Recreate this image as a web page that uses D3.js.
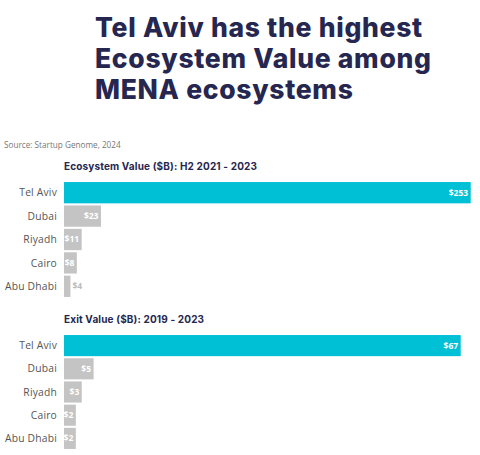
<!DOCTYPE html>
<html>
<head>
<meta charset="utf-8">
<script src="https://cdn.jsdelivr.net/npm/d3@7"></script>
<style>
  body { margin: 0; background: #fff; }
  svg { display: block; }
  .title { font-family: Inter, sans-serif; font-weight: 800; fill: #262750; letter-spacing: 0.7px; }
  .source { font-family: "Open Sans", sans-serif; font-size: 8.2px; fill: #777; }
  .chart-title { font-family: Inter, sans-serif; font-weight: 700; font-size: 10px; fill: #262750; letter-spacing: 0.15px; }
  .cat { font-family: "Open Sans", sans-serif; font-size: 10.3px; fill: #555; letter-spacing: 0.2px; }
  .val { font-family: "Open Sans", sans-serif; font-size: 8.5px; font-weight: 700; }
</style>
</head>
<body>
<div id="chart"></div>
<script>
var cities = ['Tel Aviv', 'Dubai', 'Riyadh', 'Cairo', 'Abu Dhabi'];
var ecosystemValue = [253, 23, 11, 8, 4];
var exitValue = [67, 5, 3, 2, 2];
var titleLines = ['Tel Aviv has the highest', 'Ecosystem Value among', 'MENA ecosystems'];
var chartTitles = ['Ecosystem Value ($B): H2 2021 - 2023', 'Exit Value ($B): 2019 - 2023'];

var width = 480, height = 455;
var svg = d3.select('#chart').append('svg')
  .attr('width', width)
  .attr('height', height);

// headline
svg.append('text')
  .attr('class', 'title')
  .attr('font-size', 26.5)
  .selectAll('tspan')
  .data(titleLines)
  .enter().append('tspan')
    .attr('x', 95)
    .attr('y', function (d, i) { return 37 + i * 31; })
    .text(function (d) { return d; });

svg.append('text')
  .attr('class', 'source')
  .attr('x', 4)
  .attr('y', 148)
  .text('Source: Startup Genome, 2024');

function drawPanel(values, title, titleY, yTop, yBottom, xMax, xEnd) {
  var g = svg.append('g');
  var rows = cities.map(function (c, i) { return {city: c, v: values[i], i: i}; });

  var x = d3.scaleLinear().domain([0, xMax]).range([64, xEnd]);
  var y = d3.scaleBand().domain(cities).range([yTop, yBottom])
    .paddingInner(0.09).paddingOuter(0.045);

  g.append('text')
    .attr('class', 'chart-title')
    .attr('x', 64)
    .attr('y', titleY)
    .text(title);

  g.selectAll('rect.bar')
    .data(rows)
    .enter().append('rect')
      .attr('class', 'bar')
      .attr('x', x(0))
      .attr('y', function (d) { return y(d.city); })
      .attr('width', function (d) { return x(d.v) - x(0); })
      .attr('height', y.bandwidth())
      .attr('fill', function (d) { return d.i === 0 ? '#00c0d6' : '#c4c4c4'; });

  g.selectAll('text.cat')
    .data(rows)
    .enter().append('text')
      .attr('class', 'cat')
      .attr('x', 57)
      .attr('y', function (d) { return y(d.city) + y.bandwidth() / 2; })
      .attr('dy', '0.35em')
      .attr('text-anchor', 'end')
      .text(function (d) { return d.city; });

  g.selectAll('text.val')
    .data(rows)
    .enter().append('text')
      .attr('class', 'val')
      .attr('y', function (d) { return y(d.city) + y.bandwidth() / 2; })
      .attr('dy', '0.35em')
      .each(function (d) {
        var w = x(d.v) - x(0);
        var t = d3.select(this).text('$' + d.v);
        if (w < 10) {
          t.attr('x', x(d.v) + 2).attr('text-anchor', 'start')
            .attr('fill', '#bbb').attr('font-weight', 400);
        } else {
          t.attr('x', x(d.v) - 2.5).attr('text-anchor', 'end').attr('fill', '#fff');
        }
      });
}

drawPanel(ecosystemValue, chartTitles[0], 170, 181, 298, 253, 470.7);
drawPanel(exitValue, chartTitles[1], 323, 334, 450, 67, 460.7);
</script>
</body>
</html>
